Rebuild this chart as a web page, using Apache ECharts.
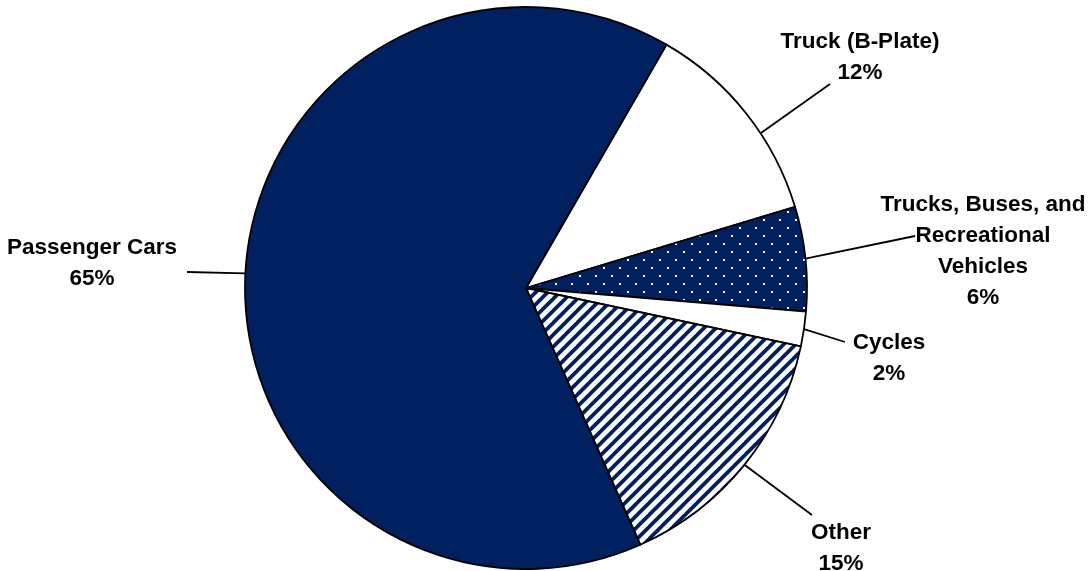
<!DOCTYPE html>
<html>
<head>
<meta charset="utf-8">
<script src="https://cdn.jsdelivr.net/npm/echarts@6/dist/echarts.min.js"></script>
<style>
html,body{margin:0;padding:0;background:#fff;}
#chart{width:1088px;height:571px;}
</style>
</head>
<body>
<div id="chart"></div>
<script>
// ---- data ----
var categories = ['Truck (B-Plate)', 'Trucks, Buses, and\nRecreational\nVehicles', 'Cycles', 'Other', 'Passenger Cars'];
var values = [12, 6, 2, 15, 65];

// ---- layout (label centres, leader end points and leader start shifts) ----
var labelCenters = [[860, 57], [983, 251], [889, 358], [841, 548], [92, 263]];
var leaderEnds = [[830, 84], [915, 236], [845, 342], [812, 515], [187, 272]];
var leaderShiftDeg = [5, 0, 0, 0, 0];
var CX = 526, CY = 288, R = 281;

var NAVY = '#002060';

function stripeTile() {
  var c = document.createElement('canvas');
  c.width = 12; c.height = 12;
  var g = c.getContext('2d');
  g.fillStyle = '#fff'; g.fillRect(0, 0, 12, 12);
  g.strokeStyle = NAVY; g.lineWidth = 3.8;
  for (var k = -1; k <= 2; k++) {
    var cc = k * 12;
    g.beginPath(); g.moveTo(cc + 6, -6); g.lineTo(cc - 18, 18); g.stroke();
  }
  return c;
}
function dotTile() {
  var c = document.createElement('canvas');
  c.width = 16; c.height = 16;
  var g = c.getContext('2d');
  g.fillStyle = NAVY; g.fillRect(0, 0, 16, 16);
  g.fillStyle = '#fff';
  g.fillRect(3, 3, 2, 2);
  g.fillRect(11, 11, 2, 2);
  return c;
}

var fills = [
  '#ffffff',
  { image: dotTile(), repeat: 'repeat' },
  '#ffffff',
  { image: stripeTile(), repeat: 'repeat' },
  NAVY
];

var data = categories.map(function (name, i) {
  return { name: name, value: values[i], itemStyle: { color: fills[i] } };
});

var chart = echarts.init(document.getElementById('chart'), null, { renderer: 'canvas' });
chart.setOption({
  animation: false,
  backgroundColor: '#fff',
  series: [{
    type: 'pie',
    center: [CX, CY],
    radius: R,
    startAngle: 60,
    clockwise: true,
    avoidLabelOverlap: false,
    silent: true,
    data: data,
    itemStyle: { borderColor: '#000', borderWidth: 1.8 },
    label: {
      show: true,
      position: 'outside',
      formatter: function (p) { return p.name + '\n' + Math.round(p.percent) + '%'; },
      fontFamily: '"Liberation Sans", Arial, sans-serif',
      fontWeight: 'bold',
      fontSize: 22.5,
      lineHeight: 31,
      color: '#000',
      align: 'center'
    },
    labelLine: {
      show: true,
      length: 20,
      length2: 20,
      lineStyle: { color: '#000', width: 1.8 }
    },
    labelLayout: function (params) {
      var i = params.dataIndex;
      var p0 = params.labelLinePoints ? params.labelLinePoints[0] : leaderEnds[i];
      var a = Math.atan2(p0[1] - CY, p0[0] - CX) + leaderShiftDeg[i] * Math.PI / 180;
      var d = Math.sqrt((p0[0] - CX) * (p0[0] - CX) + (p0[1] - CY) * (p0[1] - CY));
      var s = [CX + d * Math.cos(a), CY + d * Math.sin(a)];
      return {
        x: labelCenters[i][0],
        y: labelCenters[i][1],
        align: 'center',
        verticalAlign: 'middle',
        labelLinePoints: [s, leaderEnds[i], leaderEnds[i]]
      };
    }
  }]
});
</script>
</body>
</html>
